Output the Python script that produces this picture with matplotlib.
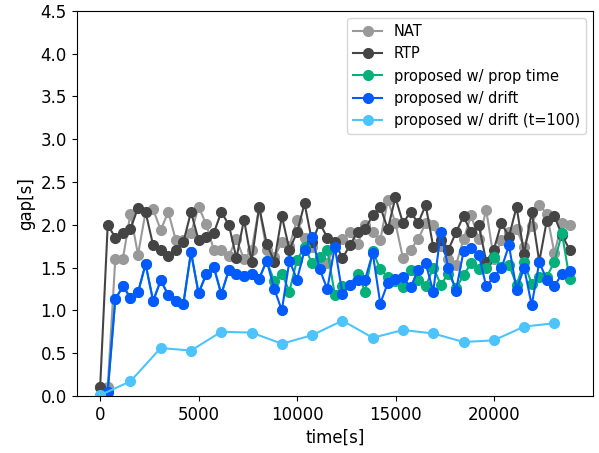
import matplotlib.pyplot as plt

# sampling times [s] (one sample every 384 s)
time = [0, 384, 768, 1152, 1536, 1920, 2304, 2688, 3072, 3456,
        3840, 4224, 4608, 4992, 5376, 5760, 6144, 6528, 6912, 7296,
        7680, 8064, 8448, 8832, 9216, 9600, 9984, 10368, 10752, 11136,
        11520, 11904, 12288, 12672, 13056, 13440, 13824, 14208, 14592, 14976,
        15360, 15744, 16128, 16512, 16896, 17280, 17664, 18048, 18432, 18816,
        19200, 19584, 19968, 20352, 20736, 21120, 21504, 21888, 22272, 22656,
        23040, 23424, 23808]

nat = [0.10, 0.10, 1.60, 1.60, 2.13, 1.65, 2.15, 2.18, 1.94, 2.15,
       1.82, 1.82, 1.90, 2.21, 2.01, 1.71, 1.71, 1.64, 1.83, 1.60,
       1.70, 2.20, 1.70, 1.62, 1.80, 1.75, 2.06, 1.85, 1.74, 1.60,
       1.55, 1.75, 1.83, 1.91, 1.78, 2.00, 1.92, 1.82, 2.29, 2.02,
       1.61, 1.71, 1.83, 2.02, 2.00, 1.75, 1.60, 1.53, 1.83, 2.11,
       1.83, 2.17, 1.60, 1.82, 1.91, 1.95, 1.74, 1.99, 2.23, 2.13,
       1.67, 2.02, 2.00]

rtp = [0.10, 2.00, 1.85, 1.90, 1.95, 2.20, 2.15, 1.76, 1.71, 1.64,
       1.71, 1.80, 2.15, 1.82, 1.86, 1.90, 2.15, 2.00, 1.61, 2.06,
       1.57, 2.21, 1.78, 1.57, 2.10, 1.71, 1.91, 2.25, 1.80, 2.02,
       1.85, 1.80, 1.61, 1.76, 1.92, 1.95, 2.11, 2.21, 1.95, 2.32,
       2.02, 2.15, 2.02, 2.23, 1.74, 1.82, 1.71, 1.91, 2.10, 1.91,
       2.00, 1.57, 1.71, 2.02, 1.86, 2.21, 1.66, 2.15, 1.57, 2.05,
       2.10, 1.88, 1.71]

prop_time = [0.00, 0.05, 1.13, 1.28, 1.15, 1.21, 1.54, 1.11, 1.35, 1.18,
             1.11, 1.08, 1.68, 1.20, 1.42, 1.51, 1.19, 1.47, 1.42, 1.40,
             1.43, 1.37, 1.58, 1.34, 1.43, 1.22, 1.59, 1.74, 1.55, 1.62,
             1.71, 1.18, 1.28, 1.30, 1.43, 1.22, 1.69, 1.48, 1.39, 1.34,
             1.27, 1.47, 1.36, 1.28, 1.50, 1.30, 1.43, 1.26, 1.41, 1.55,
             1.48, 1.49, 1.62, 1.51, 1.53, 1.30, 1.56, 1.31, 1.39, 1.39,
             1.57, 1.90, 1.37]

drift = [0.00, 0.05, 1.13, 1.28, 1.15, 1.21, 1.54, 1.11, 1.35, 1.18,
         1.11, 1.08, 1.68, 1.20, 1.42, 1.51, 1.19, 1.47, 1.42, 1.40,
         1.43, 1.37, 1.58, 1.25, 1.00, 1.58, 1.36, 1.70, 1.86, 1.48,
         1.25, 1.74, 1.19, 1.30, 1.36, 1.36, 1.67, 1.08, 1.32, 1.37,
         1.39, 1.27, 1.47, 1.55, 1.22, 1.92, 1.49, 1.23, 1.69, 1.73,
         1.65, 1.28, 1.39, 1.49, 1.76, 1.24, 1.50, 1.06, 1.56, 1.36,
         1.28, 1.43, 1.46]

time_t100 = [0, 1536, 3072, 4608, 6144, 7680, 9216, 10752, 12288, 13824,
             15360, 16896, 18432, 19968, 21504, 23040]
drift_t100 = [0.01, 0.17, 0.56, 0.53, 0.75, 0.74, 0.61, 0.71, 0.88, 0.68,
              0.77, 0.73, 0.63, 0.65, 0.81, 0.85]

fig, ax = plt.subplots(figsize=(5.99, 4.53), dpi=100)

ax.plot(time, nat, marker="o", markersize=7, linewidth=1.5, color="#999999", label="NAT")
ax.plot(time, rtp, marker="o", markersize=7, linewidth=1.5, color="#444444", label="RTP")
ax.plot(time, prop_time, marker="o", markersize=7, linewidth=1.5, color="#03AF7A", label="proposed w/ prop time")
ax.plot(time, drift, marker="o", markersize=7, linewidth=1.5, color="#005AFF", label="proposed w/ drift")
ax.plot(time_t100, drift_t100, marker="o", markersize=7, linewidth=1.5, color="#4DC4FF", label="proposed w/ drift (t=100)")

ax.set_ylim(0, 4.5)
ax.set_xlabel("time[s]", fontsize=12)
ax.set_ylabel("gap[s]", fontsize=12)
ax.tick_params(labelsize=12)
ax.legend(fontsize=10.5)

fig.subplots_adjust(left=0.128, right=0.99, top=0.976, bottom=0.126)
fig.savefig("out.png", dpi=100)
